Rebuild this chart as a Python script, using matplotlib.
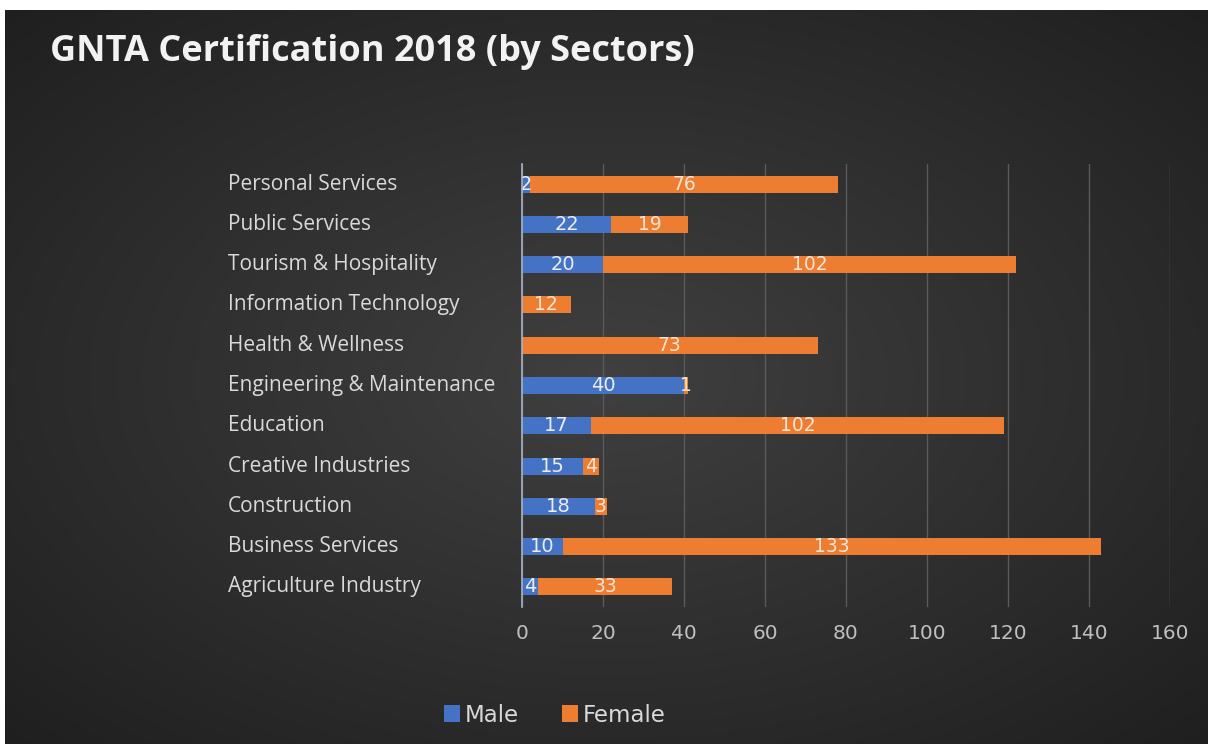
import matplotlib
matplotlib.use("Agg")
import matplotlib.pyplot as plt
import numpy as np

categories = ["Agriculture Industry", "Business Services", "Construction", "Creative Industries",
              "Education", "Engineering & Maintenance", "Health & Wellness",
              "Information Technology", "Tourism & Hospitality", "Public Services",
              "Personal Services"]
male = [4, 10, 18, 15, 17, 40, 0, 0, 20, 22, 2]
female = [33, 133, 3, 4, 102, 1, 73, 12, 102, 19, 76]
xticks = [0, 20, 40, 60, 80, 100, 120, 140, 160]

W, H = 1212, 744
fig = plt.figure(figsize=(W / 100, H / 100), dpi=100, facecolor="white")

# background panel with radial gradient
bg = fig.add_axes([5 / W, 0, (W - 9) / W, (H - 10) / H])
bg.set_axis_off()
yy, xx = np.mgrid[-1:1:300j, -1:1:500j]
r = np.sqrt((xx * 0.9) ** 2 + (yy * 0.9) ** 2)
vals = 0.25 - 0.10 * np.clip(r, 0, 1.3)
img = np.dstack([vals, vals, vals])
bg.imshow(img, aspect="auto", extent=[0, 1, 0, 1], interpolation="bilinear")
bg.set_xlim(0, 1); bg.set_ylim(0, 1)

ax = fig.add_axes([522 / W, 1 - 607 / H, (1170 - 522) / W, (607 - 164) / H])
ax.set_facecolor("none")
y = np.arange(len(categories))
blue = "#4472C4"
orange = "#ED7D31"
bm = ax.barh(y, male, height=0.42, color=blue, label="Male", zorder=3)
bf = ax.barh(y, female, left=male, height=0.42, color=orange, label="Female", zorder=3)

for i in range(len(categories)):
    if male[i] > 0:
        ax.text(male[i] / 2, y[i], str(male[i]), ha="center", va="center",
                color="#ececec", fontsize=14, zorder=4)
    if female[i] > 0:
        ax.text(male[i] + female[i] / 2, y[i], str(female[i]), ha="center", va="center",
                color="#f4e4d4", fontsize=13.5, zorder=4)

ax.set_xlim(0, 160)
ax.set_ylim(-0.5, len(categories) - 0.5)
ax.set_xticks(xticks)
ax.set_xticklabels([str(t) for t in xticks])
ax.tick_params(axis="x", colors="#bfbfbf", labelsize=14.5, length=0, pad=12)
ax.set_yticks(y)
ax.set_yticklabels([])
ax.tick_params(axis="y", length=0)
ax.grid(axis="x", color="#5a5a5a", linewidth=1, zorder=0)
for s in ["top", "right", "bottom"]:
    ax.spines[s].set_visible(False)
ax.spines["left"].set_color("#a8b4c4")
ax.spines["left"].set_linewidth(1.2)
ax.spines["left"].set_zorder(5)

# category labels left-aligned
for i, c in enumerate(categories):
    ax.text(-(522 - 228) / ((1170 - 522) / 160), y[i], c, ha="left", va="center",
            color="#d9d9d9", fontsize=15, fontfamily="Open Sans")

fig.text(50 / W, 1 - 52 / H, "GNTA Certification 2018 (by Sectors)", color="#f2f2f2",
         fontsize=26, fontweight="bold", va="center", ha="left", fontfamily="Open Sans")

leg = fig.legend(handles=[bm, bf], labels=["Male", "Female"], loc="center",
                 bbox_to_anchor=(555 / W, 1 - 715 / H), ncol=2, frameon=False,
                 fontsize=16.5, handlelength=0.7, handleheight=0.7, handletextpad=0.2,
                 columnspacing=1.9)
for t in leg.get_texts():
    t.set_color("#d9d9d9")

fig.savefig("out.png", dpi=100, facecolor="white")
